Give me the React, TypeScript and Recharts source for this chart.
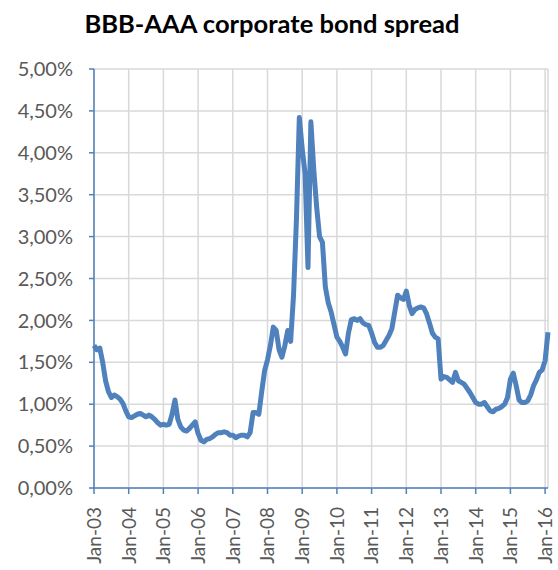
import { LineChart, Line, XAxis, YAxis, CartesianGrid } from "recharts";

// monthly BBB-AAA spread in %, Jan-03 .. Feb-16
const spread = [
    1.70, 1.65, 1.67, 1.50, 1.28, 1.15, 1.08, 1.11, 1.09, 1.06, 1.01, 0.92,
    0.85, 0.84, 0.86, 0.88, 0.89, 0.87, 0.85, 0.87, 0.85, 0.82, 0.78, 0.75,
    0.76, 0.75, 0.76, 0.88, 1.05, 0.82, 0.73, 0.69, 0.68, 0.71, 0.75, 0.79,
    0.65, 0.57, 0.55, 0.58, 0.59, 0.61, 0.64, 0.66, 0.66, 0.67, 0.66, 0.63,
    0.63, 0.60, 0.62, 0.63, 0.63, 0.61, 0.66, 0.90, 0.90, 0.88, 1.15, 1.40,
    1.53, 1.70, 1.92, 1.88, 1.65, 1.56, 1.70, 1.88, 1.75, 2.30, 3.20, 4.42,
    4.05, 3.75, 2.63, 4.37, 3.80, 3.35, 3.00, 2.93, 2.40, 2.21, 2.10, 1.95,
    1.80, 1.75, 1.68, 1.60, 1.85, 2.01, 2.02, 2.00, 2.02, 1.97, 1.95, 1.94,
    1.85, 1.74, 1.68, 1.68, 1.70, 1.76, 1.82, 1.90, 2.10, 2.30, 2.27, 2.25,
    2.35, 2.18, 2.08, 2.13, 2.15, 2.16, 2.15, 2.08, 1.97, 1.85, 1.80, 1.78,
    1.30, 1.33, 1.32, 1.29, 1.26, 1.38, 1.28, 1.26, 1.24, 1.19, 1.14, 1.08,
    1.02, 1.00, 1.00, 1.02, 0.97, 0.92, 0.91, 0.94, 0.95, 0.97, 1.00, 1.08,
    1.30, 1.37, 1.22, 1.05, 1.02, 1.02, 1.04, 1.11, 1.22, 1.29, 1.38, 1.41,
    1.52, 1.86,
];

const yearLabels = [
    "Jan-03", "Jan-04", "Jan-05", "Jan-06", "Jan-07", "Jan-08", "Jan-09",
    "Jan-10", "Jan-11", "Jan-12", "Jan-13", "Jan-14", "Jan-15", "Jan-16",
];

const yTicks = [0, 0.5, 1, 1.5, 2, 2.5, 3, 3.5, 4, 4.5, 5];

const data = spread.map((v, i) => ({ m: i, spread: v }));
const xTicks = yearLabels.map((_, i) => i * 12);

const BLUE = "#4F81BD";
const TEXT = "#595959";
const FONT = "Lato, 'Liberation Sans', sans-serif";

function XTick(props: any) {
    const { x, y, payload } = props;
    const label = yearLabels[Math.round(payload.value / 12)];
    return (
        <text
            x={x}
            y={y + 11}
            dy="0.36em"
            textAnchor="end"
            transform={`rotate(-90, ${x}, ${y + 11})`}
            fill={TEXT}
            fontSize={19}
            fontFamily={FONT}
        >
            {label}
        </text>
    );
}

export default function App() {
    return (
        <div style={{ position: "absolute", left: 0, top: 0, width: 558, height: 570, background: "#fff", overflow: "hidden" }}>
            <div
                style={{
                    position: "absolute",
                    left: 0,
                    width: 544,
                    top: 8,
                    textAlign: "center",
                    fontFamily: FONT,
                    fontWeight: 700,
                    fontSize: 25.5,
                    color: "#000",
                }}
            >
                BBB-AAA corporate bond spread
            </div>
            <LineChart width={558} height={570} data={data} margin={{ top: 69, right: 10, left: 0, bottom: 0 }}>
                <CartesianGrid stroke="#D9D9D9" strokeWidth={1.5} />
                <XAxis
                    dataKey="m"
                    type="number"
                    domain={[0, 157]}
                    ticks={xTicks}
                    interval={0}
                    height={82}
                    axisLine={{ stroke: BLUE, strokeWidth: 1.5 }}
                    tickLine={{ stroke: BLUE, strokeWidth: 1.5 }}
                    tickSize={6}
                    tick={<XTick />}
                />
                <YAxis
                    type="number"
                    domain={[0, 5]}
                    ticks={yTicks}
                    interval={0}
                    width={94}
                    axisLine={{ stroke: BLUE, strokeWidth: 1.5 }}
                    tickLine={{ stroke: BLUE, strokeWidth: 1.5 }}
                    tickSize={5}
                    tickMargin={16}
                    tick={{ fill: TEXT, fontSize: 20, fontFamily: FONT }}
                    tickFormatter={(v: number) => v.toFixed(2).replace(".", ",") + "%"}
                />
                <Line
                    type="linear"
                    dataKey="spread"
                    stroke={BLUE}
                    strokeWidth={5}
                    strokeLinejoin="round"
                    dot={false}
                    isAnimationActive={false}
                />
            </LineChart>
        </div>
    );
}
